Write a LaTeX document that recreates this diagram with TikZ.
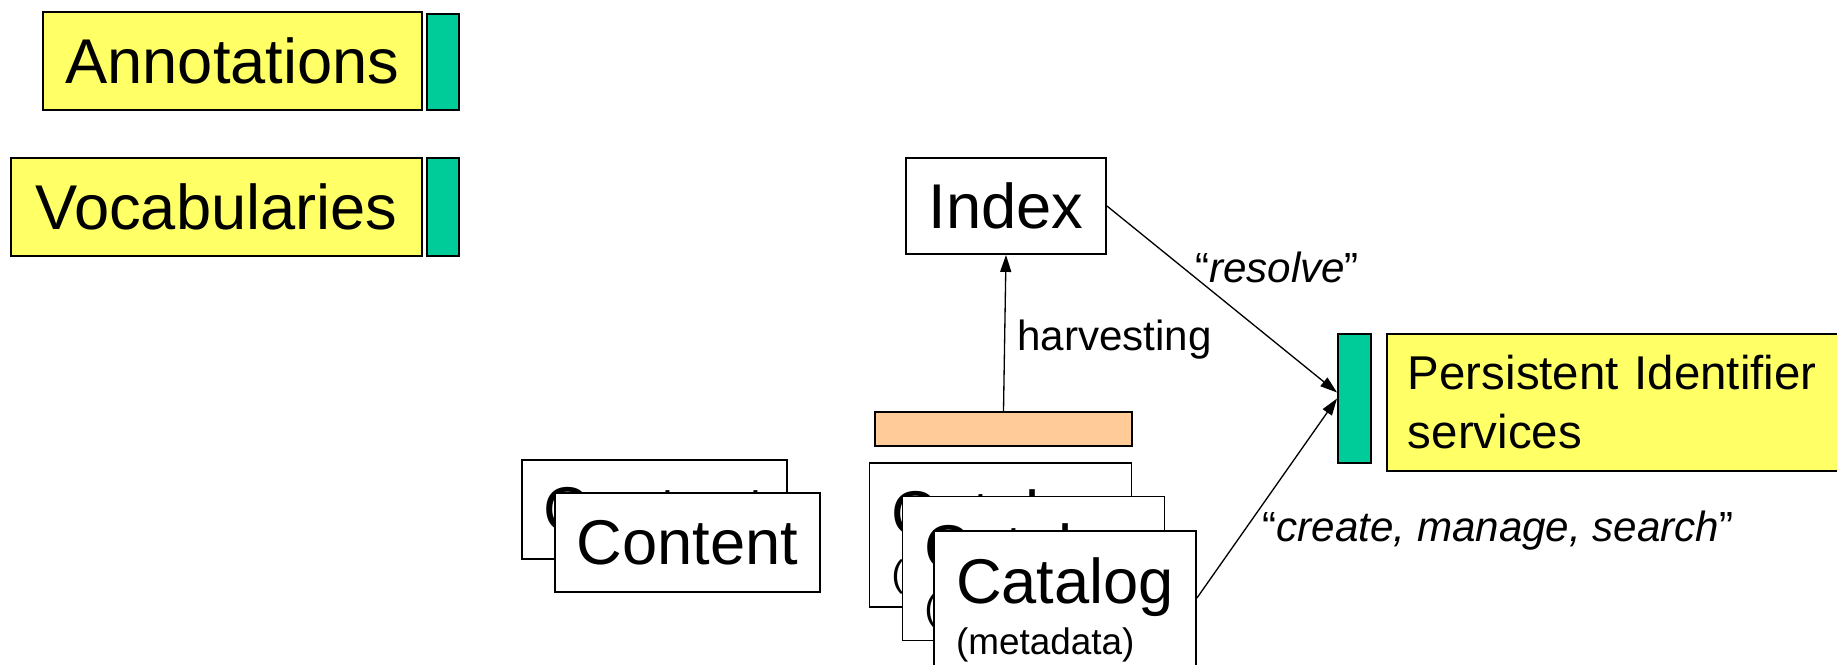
\documentclass[tikz,border=0pt]{standalone}
\usepackage{fontspec}
\setmainfont{Liberation Sans}
\usetikzlibrary{arrows.meta}
\definecolor{noteyellow}{HTML}{FFFF66}
\definecolor{pidgreen}{HTML}{00CC99}
\definecolor{peach}{HTML}{FFCC99}
\newcommand{\catalogtext}{Catalog\rule{0pt}{34pt}\\[-14pt]{\fontsize{21}{25}\selectfont (metadata)}}

\begin{document}
\begin{tikzpicture}[x=0.02cm, y=-0.02cm,
		box/.style={draw, rectangle, line width=1.1pt, inner sep=0pt},
		bigtext/.style={font=\fontsize{36}{43}\selectfont},
		service/.style={box, fill=noteyellow, minimum height=1.96cm, bigtext},
		plug/.style={box, fill=pidgreen, minimum width=0.64cm},
		store/.style={box, fill=white, minimum width=5.3cm, minimum height=1.98cm, bigtext},
		catbox/.style={box, fill=white, minimum width=5.24cm, minimum height=2.88cm, align=left, bigtext},
		flow/.style={-{Triangle[length=0.34cm,width=0.22cm]}, line width=0.75pt},
		edgetext/.style={font=\fontsize{24}{28}\selectfont}]
	\useasboundingbox (0,0) rectangle (1837,665);

	% Annotations
	\node[service, minimum width=7.58cm] (annot) at (232.5,61) {Annotations};
	\node[plug, minimum height=1.92cm] (annotplug) at (443,62) {};

	% Vocabularies
	\node[service, minimum width=8.22cm] (vocab) at (216.5,207) {Vocabularies};
	\node[plug, minimum height=1.96cm] (vocabplug) at (443,207) {};

	% Index
	\node[box, fill=white, minimum width=4cm, minimum height=1.92cm, bigtext] (index) at (1006,206) {Index};

	% Harvesting interface
	\node[box, fill=peach, minimum width=5.14cm, minimum height=0.68cm] (harvest) at (1003.5,429) {};
	\draw[flow] (harvest.north) -- (index.south);
	\node[edgetext, anchor=west] (harvestlabel) at (1011,340) {harvesting};

	% Content
	\node[store] (contentback) at (654.5,509.5) {Content};
	\node[store] (content) at (687.5,542.5) {Content};

	% Catalogs
	\node[catbox] (catalogback) at (1000.5,535) {\catalogtext};
	\node[catbox] (catalogmid) at (1033.5,568.5) {\catalogtext};
	\node[catbox] (catalog) at (1065,603) {\catalogtext};

	% Persistent Identifier services
	\node[plug, minimum width=0.66cm, minimum height=2.58cm] (pidplug) at (1354.5,398.5) {};
	\node[box, fill=noteyellow, anchor=west, minimum height=2.74cm, text width=9.16cm, inner xsep=0.42cm, align=left,
		font=\fontsize{27}{33.6}\selectfont] (pid) at (1386,402.5) {Persistent Identifier\\services};

	% Calls
	\draw[flow] (index.east) -- ([yshift=0.12cm]pidplug.west);
	\node[edgetext] (resolvelabel) at (1277,267) {“\textit{resolve}”};
	\draw[flow] ([yshift=0.1cm]catalog.east) -- (pidplug.west);
	\node[edgetext] (createlabel) at (1498,531) {“\textit{create, manage, search}”};
\end{tikzpicture}
\end{document}
